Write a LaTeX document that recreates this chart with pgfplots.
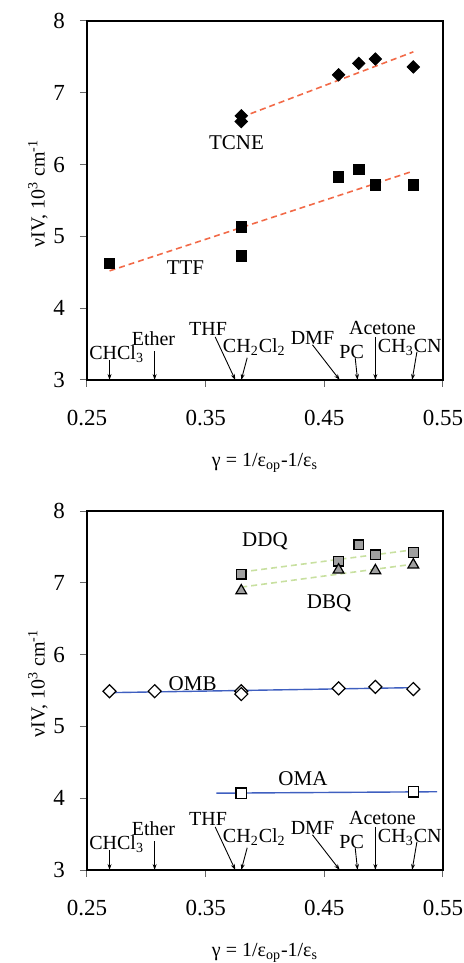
\documentclass[border=0pt]{standalone}
\usepackage{fontspec}
\setmainfont{Liberation Serif}
\usepackage{pgfplots}
\pgfplotsset{compat=1.18}
\usetikzlibrary{arrows.meta}

\definecolor{fitred}{HTML}{F26A48}
\definecolor{fitgreen}{HTML}{C8E0A0}
\definecolor{fitblue}{HTML}{3F5FC0}
\definecolor{markgray}{HTML}{A0A0A0}

\tikzset{
  fitln/.style={line width=0.8pt, dash pattern=on 3pt off 2pt},
  arr/.style={line width=0.45pt, -{Stealth[length=3pt,width=2pt]}},
  lab/.style={font=\fontsize{10}{12}\selectfont, inner sep=0pt},
  biglab/.style={font=\fontsize{10.5}{12.5}\selectfont, inner sep=0pt},
}

\pgfplotsset{
  panel/.style={
    scale only axis, width=178pt, height=179.5pt,
    xmin=0.25, xmax=0.55, ymin=3, ymax=8,
    xtick={0.25,0.35,0.45,0.55}, xticklabels={0.25,0.35,0.45,0.55},
    ytick={3,4,5,6,7,8},
    /pgf/number format/assume math mode=true,
    tick align=outside, xtick pos=bottom, ytick pos=left,
    major tick length=3.5pt,
    tick style={line width=0.5pt, black!60},
    axis line style={line width=1pt},
    tick label style={font=\fontsize{11.5}{13}\selectfont},
    xticklabel style={yshift=-8pt},
    yticklabel style={xshift=-4pt},
    label style={font=\fontsize{11}{13}\selectfont},
    every axis x label/.style={at={(axis description cs:0.5,-0.231)},anchor=center},
    every axis y label/.style={at={(axis description cs:-0.138,0.52)},rotate=90,anchor=center},
    xlabel={γ = 1/ε\textsubscript{op}-1/ε\textsubscript{s}},
    ylabel={νIV, 10\textsuperscript{3} cm\textsuperscript{-1}},
    clip=false,
  },
}

\newcommand{\solvents}{
  \draw[arr] (axis cs:0.269,3.28) -- (axis cs:0.269,3.0);
  \node[lab] at (axis cs:0.275,3.36) {CHCl\textsubscript{3}};
  \draw[arr] (axis cs:0.307,3.40) -- (axis cs:0.307,3.0);
  \node[lab] at (axis cs:0.306,3.58) {Ether};
  \draw[arr] (axis cs:0.358,3.60) -- (axis cs:0.375,3.0);
  \node[lab] at (axis cs:0.352,3.71) {THF};
  \draw[arr] (axis cs:0.385,3.31) -- (axis cs:0.380,3.0);
  \node[lab] at (axis cs:0.391,3.46) {CH\textsubscript{2}Cl\textsubscript{2}};
  \draw[arr] (axis cs:0.440,3.49) -- (axis cs:0.463,3.0);
  \node[lab] at (axis cs:0.440,3.58) {DMF};
  \draw[arr] (axis cs:0.476,3.31) -- (axis cs:0.478,3.0);
  \node[lab] at (axis cs:0.473,3.39) {PC};
  \draw[arr] (axis cs:0.493,3.60) -- (axis cs:0.493,3.0);
  \node[lab] at (axis cs:0.499,3.72) {Acetone};
  \draw[arr] (axis cs:0.528,3.39) -- (axis cs:0.524,3.0);
  \node[lab] at (axis cs:0.522,3.46) {CH\textsubscript{3}CN};
}

\begin{document}
\begin{tikzpicture}
\useasboundingbox (-43.5pt,-291.5pt) rectangle (188.5pt,190pt);

% top panel: TCNE and TTF
\begin{axis}[panel, at={(0,0)}, anchor=south west]
\addplot[fitln, fitred] coordinates {(0.380,6.66) (0.525,7.57)};
\addplot[fitln, fitred] coordinates {(0.269,4.52) (0.525,5.91)};
\addplot[only marks, mark=square*, mark size=2.2pt, mark options={rotate=45, fill=black}]
  coordinates {(0.380,6.68) (0.380,6.60) (0.462,7.25) (0.479,7.41) (0.493,7.47) (0.525,7.36)};
\addplot[only marks, mark=square*, mark size=2.6pt, mark options={fill=black}]
  coordinates {(0.269,4.62) (0.380,5.13) (0.380,4.73) (0.462,5.83) (0.479,5.93) (0.493,5.72) (0.525,5.72)};
\node[biglab] at (axis cs:0.376,6.31) {TCNE};
\node[biglab] at (axis cs:0.333,4.57) {TTF};
\solvents
\end{axis}

% bottom panel: DDQ, DBQ, OMB, OMA
\begin{axis}[panel, at={(0,-245pt)}, anchor=south west]
\addplot[fitln, fitgreen] coordinates {(0.380,7.15) (0.525,7.46)};
\addplot[fitln, fitgreen] coordinates {(0.380,6.94) (0.525,7.26)};
\addplot[fitblue, line width=0.7pt] coordinates {(0.269,5.47) (0.525,5.54)};
\addplot[fitblue, line width=0.7pt] coordinates {(0.359,4.07) (0.545,4.09)};
\addplot[only marks, mark=square*, mark size=2.4pt, mark options={fill=markgray, draw=black, line width=0.6pt}]
  coordinates {(0.380,7.12) (0.462,7.30) (0.479,7.53) (0.493,7.39) (0.525,7.42)};
\addplot[only marks, mark=triangle*, mark size=3.1pt, mark options={fill=markgray, draw=black, line width=0.6pt}]
  coordinates {(0.380,6.89) (0.462,7.18) (0.493,7.17) (0.525,7.25)};
\addplot[only marks, mark=square*, mark size=2.3pt, mark options={rotate=45, fill=white, draw=black, line width=0.6pt}]
  coordinates {(0.269,5.49) (0.307,5.49) (0.380,5.49) (0.380,5.45) (0.462,5.53) (0.493,5.55) (0.525,5.52)};
\addplot[only marks, mark=square*, mark size=2.6pt, mark options={fill=white, draw=black, line width=0.6pt}]
  coordinates {(0.380,4.07) (0.525,4.09)};
\node[biglab] at (axis cs:0.400,7.58) {DDQ};
\node[biglab] at (axis cs:0.454,6.72) {DBQ};
\node[biglab] at (axis cs:0.339,5.60) {OMB};
\node[biglab] at (axis cs:0.432,4.27) {OMA};
\solvents
\end{axis}
\end{tikzpicture}
\end{document}
